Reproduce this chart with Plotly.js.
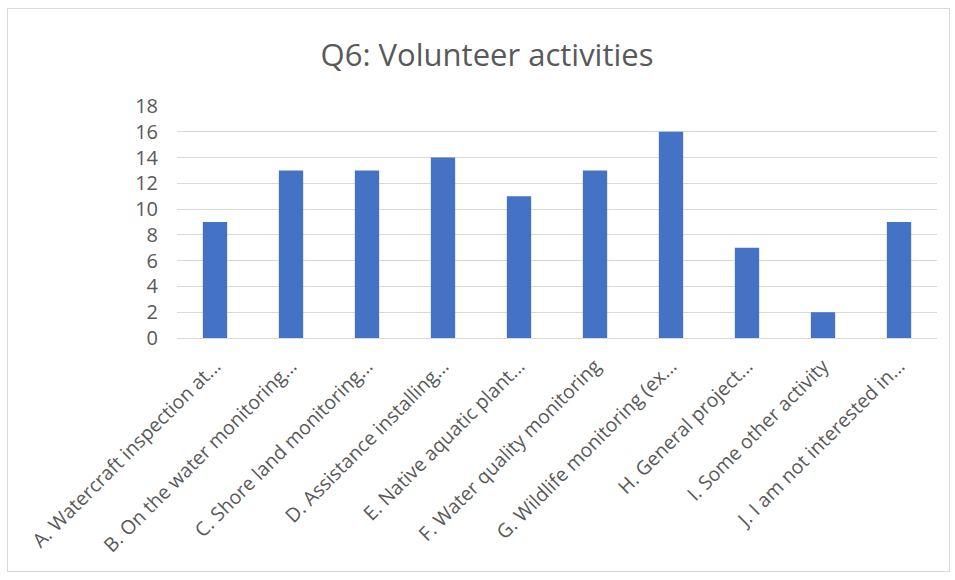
<!DOCTYPE html>
<html>
<head>
<meta charset="utf-8">
<script src="https://cdn.plot.ly/plotly-3.0.1.min.js"></script>
<style>
  html, body { margin: 0; padding: 0; background: #ffffff; }
  #wrap { position: relative; width: 955px; height: 580px; }
  #chart { position: absolute; left: 0; top: 0; width: 955px; height: 580px; }
  #frame { position: absolute; left: 7px; top: 8px; width: 943px; height: 564px;
           border: 1.5px solid #d9d9d9; box-sizing: border-box; pointer-events: none; }
</style>
</head>
<body>
<div id="wrap">
  <div id="chart"></div>
  <div id="frame"></div>
</div>
<script>
const categories = [
  "A. Watercraft inspection at...",
  "B. On the water monitoring...",
  "C. Shore land monitoring...",
  "D. Assistance installing...",
  "E. Native aquatic plant...",
  "F. Water quality monitoring",
  "G. Wildlife monitoring (ex...",
  "H. General project...",
  "I. Some other activity",
  "J. I am not interested in..."
];
const counts = [9, 13, 13, 14, 11, 13, 16, 7, 2, 9];
const yTicks = [0, 2, 4, 6, 8, 10, 12, 14, 16, 18];

const trace = {
  type: "bar",
  x: categories,
  y: counts,
  marker: { color: "#4472C4" },
  hoverinfo: "x+y"
};

const layout = {
  width: 955,
  height: 580,
  margin: { l: 177, r: 18, t: 106, b: 242 },
  paper_bgcolor: "rgba(0,0,0,0)",
  plot_bgcolor: "rgba(0,0,0,0)",
  bargap: 0.68,
  showlegend: false,
  title: {
    text: "Q6: Volunteer activities",
    x: 0.51, xanchor: "center",
    y: 0.905, yanchor: "middle",
    font: { family: "Open Sans, sans-serif", size: 31, color: "#595959" }
  },
  xaxis: {
    type: "category",
    tickangle: -45,
    showgrid: false,
    showline: true,
    linecolor: "#d9d9d9",
    linewidth: 1,
    ticks: "",
    ticklabelstandoff: 8,
    tickfont: { family: "Open Sans, sans-serif", size: 19.5, color: "#595959" },
    automargin: false
  },
  yaxis: {
    range: [0, 18],
    tickvals: yTicks,
    ticktext: yTicks.map(String),
    showgrid: true,
    gridcolor: "#d9d9d9",
    gridwidth: 1,
    zeroline: false,
    showline: false,
    ticks: "",
    ticklabelstandoff: 18,
    tickfont: { family: "Open Sans, sans-serif", size: 20, color: "#595959" },
    automargin: false
  }
};

Plotly.newPlot("chart", [trace], layout, { displayModeBar: false, staticPlot: true });
</script>
</body>
</html>
